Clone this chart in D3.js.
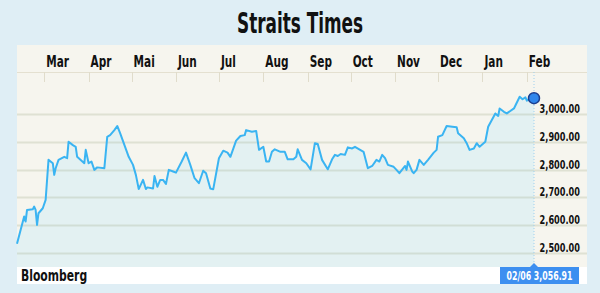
<!DOCTYPE html>
<html>
<head>
<meta charset="utf-8">
<script src="https://cdn.jsdelivr.net/npm/d3@7"></script>
<style>
  body { margin: 0; background: #dfeef5; }
  text { font-family: "Liberation Sans Narrow", "DejaVu Sans Condensed", sans-serif; font-weight: bold; }
</style>
</head>
<body>
<div id="chart"></div>
<script>

// Straits Times index, daily-ish closes
var dates = [
  "2016-02-11","2016-02-16","2016-02-17","2016-02-18","2016-02-22","2016-02-23","2016-02-24","2016-02-25","2016-02-26","2016-02-29",
  "2016-03-02","2016-03-04","2016-03-07","2016-03-08","2016-03-09","2016-03-11","2016-03-15","2016-03-17","2016-03-18","2016-03-21",
  "2016-03-23","2016-03-24","2016-03-29","2016-03-30","2016-04-01","2016-04-03","2016-04-05","2016-04-07","2016-04-12","2016-04-14",
  "2016-04-16","2016-04-19","2016-04-21","2016-04-23","2016-04-29","2016-05-02","2016-05-04","2016-05-06","2016-05-09","2016-05-11",
  "2016-05-12","2016-05-16","2016-05-17","2016-05-19","2016-05-21","2016-05-23","2016-05-25","2016-05-27","2016-05-30","2016-06-01",
  "2016-06-05","2016-06-08","2016-06-11","2016-06-14","2016-06-17","2016-06-20","2016-06-22","2016-06-25","2016-06-27","2016-07-01",
  "2016-07-04","2016-07-07","2016-07-09","2016-07-13","2016-07-16","2016-07-19","2016-07-20","2016-07-24","2016-07-27","2016-07-29",
  "2016-08-01","2016-08-03","2016-08-05","2016-08-07","2016-08-09","2016-08-13","2016-08-16","2016-08-18","2016-08-22","2016-08-24",
  "2016-08-25","2016-08-28","2016-08-31","2016-09-03","2016-09-06","2016-09-08","2016-09-11","2016-09-15","2016-09-18","2016-09-20",
  "2016-09-22","2016-09-24","2016-09-27","2016-09-29","2016-10-02","2016-10-04","2016-10-07","2016-10-10","2016-10-13","2016-10-16",
  "2016-10-19","2016-10-21","2016-10-23","2016-10-25","2016-10-27","2016-10-31","2016-11-02","2016-11-04","2016-11-08","2016-11-09",
  "2016-11-10","2016-11-13","2016-11-14","2016-11-16","2016-11-18","2016-11-21","2016-11-24","2016-11-28","2016-11-30","2016-12-01",
  "2016-12-04","2016-12-07","2016-12-11","2016-12-14","2016-12-15","2016-12-19","2016-12-21","2016-12-23","2016-12-26","2016-12-28",
  "2016-12-30","2017-01-03","2017-01-05","2017-01-10","2017-01-12","2017-01-13","2017-01-16","2017-01-18","2017-01-23","2017-01-27",
  "2017-01-29","2017-01-31","2017-02-01","2017-02-03","2017-02-06"
];
var closes = [
  2533,2631,2613,2655,2657,2667,2655,2601,2643,2661,
  2691,2835,2823,2781,2805,2835,2846,2841,2900,2888,
  2882,2846,2823,2871,2823,2829,2799,2808,2805,2918,
  2924,2942,2957,2931,2846,2817,2781,2730,2763,2730,
  2736,2732,2777,2738,2763,2763,2748,2799,2793,2789,
  2829,2861,2817,2769,2751,2796,2787,2732,2729,2841,
  2868,2861,2846,2904,2921,2924,2942,2936,2939,2871,
  2882,2829,2829,2864,2873,2864,2864,2837,2837,2846,
  2873,2835,2823,2801,2895,2892,2835,2801,2837,2853,
  2849,2856,2853,2880,2876,2882,2873,2864,2805,2813,
  2835,2829,2853,2841,2817,2810,2799,2787,2813,2799,
  2829,2793,2787,2799,2835,2817,2835,2861,2871,2918,
  2924,2957,2954,2952,2931,2913,2895,2871,2876,2895,
  2882,2900,2954,3002,2993,3020,3008,3002,3020,3062,
  3053,3060,3048,3056,3056.91
];
var monthLabels = ["Mar","Apr","Mai","Jun","Jul","Aug","Sep","Oct","Nov","Dec","Jan","Feb"];
var yTicks = [2500, 2600, 2700, 2800, 2900, 3000];
var lastLabel = "02/06";

var width = 600, height = 293;
var parse = d3.timeParse("%Y-%m-%d");
var data = dates.map(function(d, i){ return {date: parse(d), value: closes[i]}; });
var last = data[data.length - 1];

// panel + plot geometry
var panel = {left: 17, right: 587, top: 45, bottom: 284};
var plotBottom = 267;

var x = d3.scaleTime()
    .domain([data[0].date, last.date])
    .range([17, 534]);

var y = d3.scaleLinear()
    .domain([2500, 3000])
    .range([253, 114]);

// the condensed display face isn't available, so squeeze the text horizontally
function squeeze(sel, k){
  sel.each(function(){
    var w = this.getComputedTextLength();
    d3.select(this)
        .attr("textLength", w * k)
        .attr("lengthAdjust", "spacingAndGlyphs");
  });
}

var svg = d3.select("#chart").append("svg")
    .attr("width", width)
    .attr("height", height)
    .style("display", "block");

svg.append("rect")
    .attr("width", width).attr("height", height)
    .attr("fill", "#dfeef5");

// title
svg.append("text")
    .attr("x", 300).attr("y", 33)
    .attr("text-anchor", "middle")
    .attr("font-size", 28)
    .attr("textLength", 126)
    .attr("lengthAdjust", "spacingAndGlyphs")
    .attr("fill", "#111")
    .text("Straits Times");

// cream panel
svg.append("rect")
    .attr("x", panel.left).attr("y", panel.top)
    .attr("width", panel.right - panel.left)
    .attr("height", plotBottom - panel.top)
    .attr("fill", "#f6f5ee");

// header separator + month ticks
svg.append("line")
    .attr("x1", panel.left).attr("x2", panel.right)
    .attr("y1", 72.5).attr("y2", 72.5)
    .attr("stroke", "#e4e0d0");

var months = d3.timeMonth.range(new Date(2016, 2, 1), new Date(2017, 1, 2));

svg.append("g").selectAll("line")
    .data(months)
  .enter().append("line")
    .attr("x1", function(d){ return Math.round(x(d)) + 0.5; })
    .attr("x2", function(d){ return Math.round(x(d)) + 0.5; })
    .attr("y1", 72).attr("y2", 82)
    .attr("stroke", "#e0dccb");

svg.append("g").selectAll("text")
    .data(months)
  .enter().append("text")
    .attr("x", function(d){ return x(d) + 2; })
    .attr("y", 67)
    .attr("font-size", 15)
    .attr("fill", "#111")
    .text(function(d, i){ return monthLabels[i]; })
    .call(squeeze, 0.78);

// area under the line
var area = d3.area()
    .x(function(d){ return x(d.date); })
    .y0(plotBottom)
    .y1(function(d){ return y(d.value); });

svg.append("path")
    .datum(data)
    .attr("d", area)
    .attr("fill", "#e3f1f2");

// gridlines
svg.append("g").selectAll("line")
    .data(yTicks)
  .enter().append("line")
    .attr("x1", panel.left).attr("x2", panel.right)
    .attr("y1", function(d){ return Math.round(y(d)) + 0.5; })
    .attr("y2", function(d){ return Math.round(y(d)) + 0.5; })
    .attr("stroke", "rgba(170,180,150,0.3)")
    .attr("stroke-width", 2);

// right axis labels
svg.append("g").selectAll("text")
    .data(yTicks)
  .enter().append("text")
    .attr("x", 580)
    .attr("y", function(d){ return y(d) - 1; })
    .attr("text-anchor", "end")
    .attr("font-size", 13)
    .attr("fill", "#111")
    .text(function(d){ return d3.format(",.2f")(d); })
    .call(squeeze, 0.7);

// dotted marker line for latest value
svg.append("line")
    .attr("x1", x(last.date)).attr("x2", x(last.date))
    .attr("y1", 72).attr("y2", plotBottom)
    .attr("stroke", "#9fd0ee")
    .attr("stroke-dasharray", "1,2");

// price line
var line = d3.line()
    .x(function(d){ return x(d.date); })
    .y(function(d){ return y(d.value); });

svg.append("path")
    .datum(data)
    .attr("d", line)
    .attr("fill", "none")
    .attr("stroke", "#3ab4f2")
    .attr("stroke-width", 2)
    .attr("stroke-linejoin", "round");

svg.append("circle")
    .attr("cx", x(last.date))
    .attr("cy", y(last.value))
    .attr("r", 5.5)
    .attr("fill", "#2f86ec")
    .attr("stroke", "#1c3f8f")
    .attr("stroke-width", 1.5);

// footer band
svg.append("rect")
    .attr("x", panel.left).attr("y", plotBottom)
    .attr("width", panel.right - panel.left)
    .attr("height", panel.bottom - plotBottom)
    .attr("fill", "#ffffff");

svg.append("text")
    .attr("x", 21).attr("y", 281)
    .attr("font-size", 15)
    .attr("fill", "#111")
    .text("Bloomberg")
    .call(squeeze, 0.8);

// latest value tag
var tagX = x(last.date);
svg.append("rect")
    .attr("x", 500).attr("y", plotBottom)
    .attr("width", 79).attr("height", panel.bottom - plotBottom)
    .attr("fill", "#3d8ff0");

svg.append("path")
    .attr("d", "M" + (tagX - 4) + "," + plotBottom + "L" + tagX + "," + (plotBottom - 4) + "L" + (tagX + 4) + "," + plotBottom + "Z")
    .attr("fill", "#3d8ff0");

svg.append("text")
    .attr("x", 539.5).attr("y", 280)
    .attr("text-anchor", "middle")
    .attr("font-size", 12)
    .attr("textLength", 66)
    .attr("lengthAdjust", "spacingAndGlyphs")
    .attr("fill", "#fff")
    .text(lastLabel + "  " + d3.format(",.2f")(last.value));

</script>
</body>
</html>
